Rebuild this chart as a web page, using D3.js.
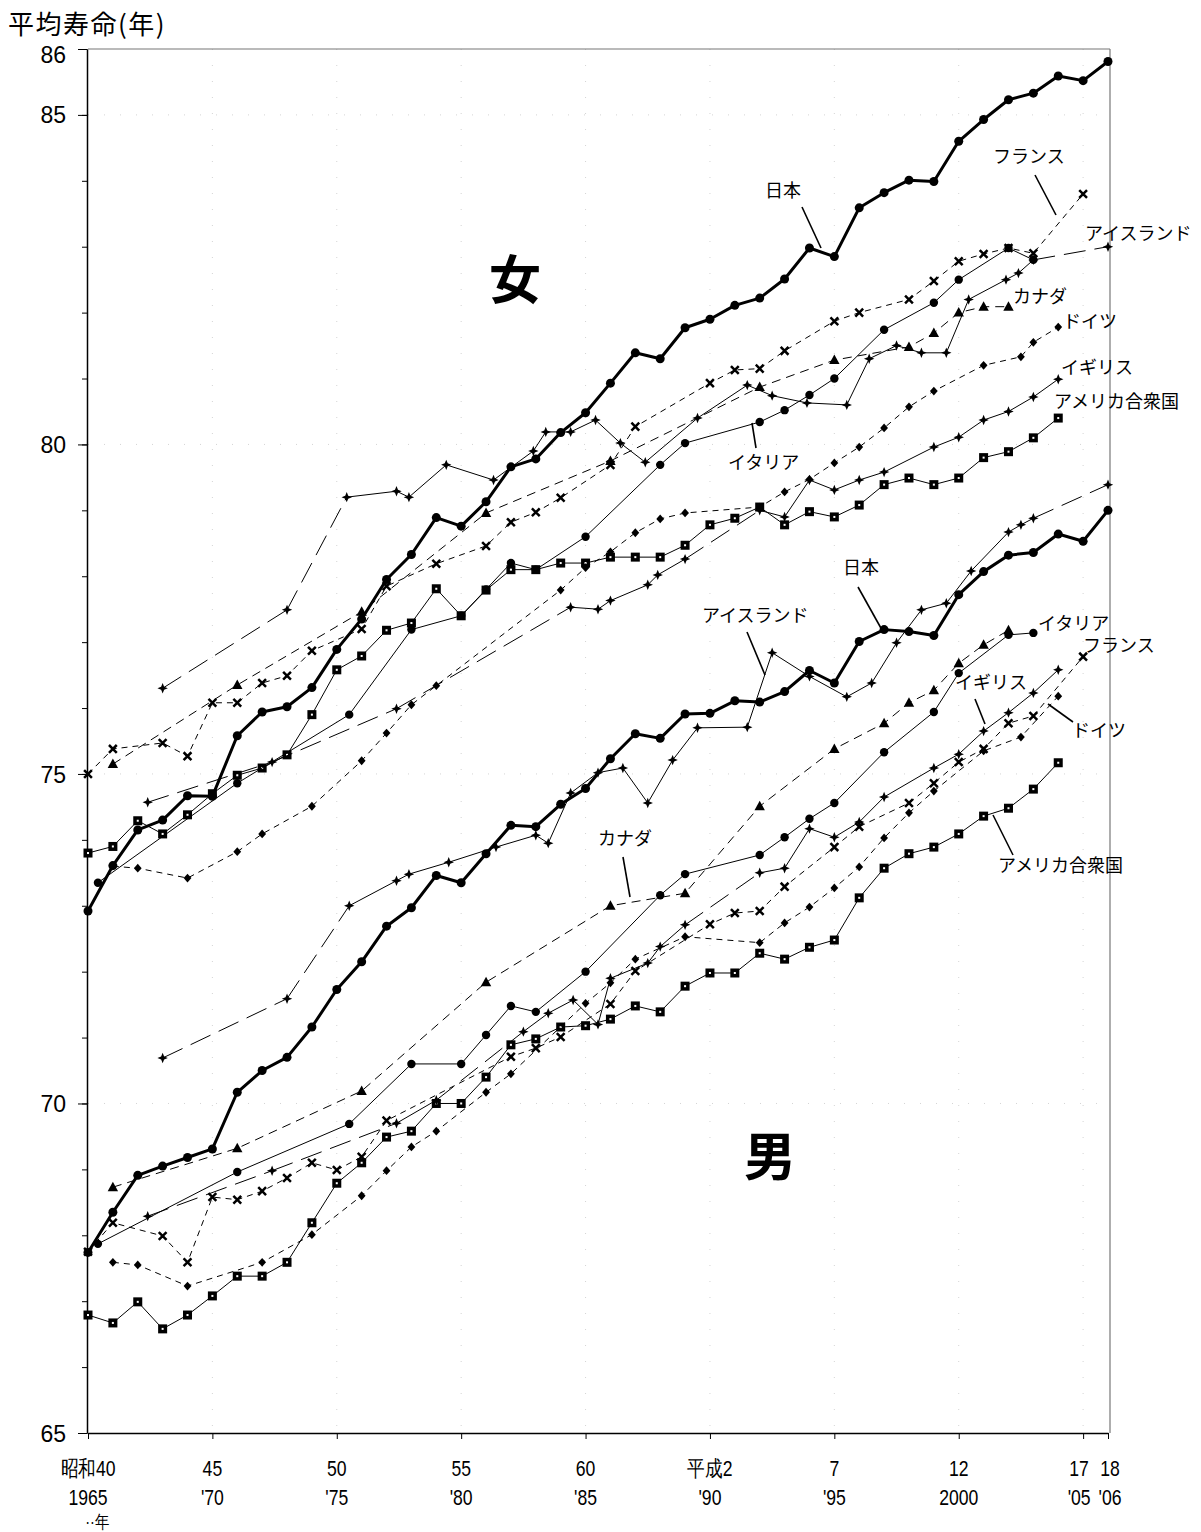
<!DOCTYPE html>
<html>
<head>
<meta charset="utf-8">
<script src="https://cdn.jsdelivr.net/npm/d3@7"></script>
<style>
  body { margin: 0; background: #fff; }
  text { fill: #000; }
  .num { font-family: "Liberation Sans", Arial, sans-serif; }
  .jp  { font-family: "Noto Sans CJK JP", "Noto Sans", sans-serif; }
</style>
</head>
<body>
<div class="draw"></div>
<script>
// ---- data (year, life expectancy) ----
const jpYears = d3.range(1965, 2007);
const jpF = [72.92,73.61,74.15,74.30,74.67,74.66,75.58,75.94,76.02,76.31,76.89,77.35,77.95,78.33,78.89,78.76,79.13,79.66,79.78,80.18,80.48,80.93,81.39,81.30,81.77,81.90,82.11,82.22,82.51,82.98,82.85,83.59,83.82,84.01,83.99,84.60,84.93,85.23,85.33,85.59,85.52,85.81];
const jpM = [67.74,68.35,68.91,69.05,69.18,69.31,70.17,70.50,70.70,71.16,71.73,72.15,72.69,72.97,73.46,73.35,73.79,74.22,74.20,74.54,74.78,75.23,75.61,75.54,75.91,75.92,76.11,76.09,76.25,76.57,76.38,77.01,77.19,77.16,77.10,77.72,78.07,78.32,78.36,78.64,78.53,79.00];

const franceF = [[1965,75.0],[1966,75.38],[1968,75.47],[1969,75.27],[1970,76.08],[1971,76.08],[1972,76.38],[1973,76.49],[1974,76.87],[1976,77.2],[1977,77.85],[1979,78.19],[1981,78.46],[1982,78.82],[1983,78.97],[1984,79.19],[1986,79.69],[1987,80.27],[1990,80.93],[1991,81.13],[1992,81.15],[1993,81.42],[1995,81.87],[1996,82.0],[1998,82.2],[1999,82.48],[2000,82.78],[2001,82.89],[2002,82.98],[2003,82.9],[2005,83.8]];
const icelandF = [[1968,76.3],[1973,77.49],[1975.4,79.2],[1977.4,79.29],[1977.9,79.2],[1979.4,79.69],[1981.3,79.46],[1982.9,79.9],[1983.4,80.19],[1984.4,80.19],[1985.4,80.37],[1986.4,80.02],[1987.4,79.73],[1989.5,80.4],[1991.5,80.9],[1992.5,80.74],[1993.9,80.63],[1995.5,80.6],[1996.4,81.3],[1997.5,81.5],[1998.5,81.39],[1999.5,81.39],[2000.4,82.2],[2001.9,82.5],[2002.4,82.6],[2003,82.8],[2006,83.0]];
const canadaF = [[1966,75.15],[1971,76.35],[1976,77.46],[1981,78.96],[1986,79.75],[1992,80.87],[1995,81.28],[1998,81.48],[1999,81.69],[2000,82.0],[2001,82.09],[2002,82.09]];
const germanyF = [[1966,73.6],[1967,73.57],[1969,73.42],[1971,73.82],[1972,74.09],[1974,74.51],[1976,75.2],[1977,75.62],[1978,76.05],[1979,76.34],[1984,77.79],[1985,78.13],[1986,78.37],[1987,78.66],[1988,78.87],[1989,78.96],[1992,79.05],[1993,79.28],[1994,79.47],[1995,79.72],[1996,79.96],[1997,80.25],[1998,80.57],[1999,80.81],[2001,81.2],[2002.5,81.33],[2003,81.55],[2004,81.78]];
const ukF = [[1967.4,74.57],[1972.4,75.18],[1977.4,75.99],[1984.4,77.53],[1985.5,77.5],[1986,77.63],[1987.5,77.87],[1987.9,78.02],[1989,78.26],[1992,79.0],[1993,78.9],[1994,79.46],[1995,79.31],[1996,79.46],[1997,79.58],[1999,79.96],[2000,80.11],[2001,80.37],[2002,80.5],[2003,80.72],[2004,80.99]];
const usaF = [[1965,73.8],[1966,73.9],[1967,74.29],[1968,74.09],[1969,74.38],[1970,74.7],[1971,74.98],[1972,75.09],[1973,75.29],[1974,75.9],[1975,76.58],[1976,76.79],[1977,77.18],[1978,77.29],[1979,77.81],[1980,77.4],[1981,77.79],[1982,78.1],[1983,78.1],[1984,78.2],[1985,78.2],[1986,78.29],[1987,78.29],[1988,78.29],[1989,78.47],[1990,78.78],[1991,78.88],[1992,79.05],[1993,78.78],[1994,78.98],[1995,78.9],[1996,79.08],[1997,79.39],[1998,79.49],[1999,79.39],[2000,79.49],[2001,79.8],[2002,79.89],[2003,80.1],[2004,80.4]];
const italyF = [[1965.4,73.35],[1971,74.86],[1975.5,75.9],[1978,77.19],[1980,77.4],[1981,77.8],[1982,78.2],[1983,78.1],[1985,78.6],[1988,79.69],[1989,80.02],[1992,80.34],[1993,80.52],[1994,80.75],[1995,81.0],[1997,81.74],[1999,82.15],[2000,82.5],[2002,82.98],[2003,82.8]];

const franceM = [[1965,67.75],[1966,68.19],[1968,67.99],[1969,67.59],[1970,68.58],[1971,68.54],[1972,68.67],[1973,68.87],[1974,69.1],[1975,68.99],[1976,69.19],[1977,69.74],[1982,70.71],[1983,70.84],[1984,71.01],[1986,71.51],[1987,72.01],[1990,72.72],[1991,72.89],[1992,72.92],[1993,73.29],[1995,73.89],[1996,74.2],[1998,74.56],[1999,74.86],[2000,75.18],[2001,75.38],[2002,75.77],[2003,75.88],[2005,76.78]];
const icelandM = [[1968,70.69],[1973,71.59],[1975.5,73.0],[1977.4,73.38],[1977.9,73.48],[1979.5,73.66],[1981.4,73.89],[1983,74.07],[1983.5,73.95],[1984.4,74.71],[1985.5,75.02],[1986.5,75.09],[1987.5,74.56],[1988.5,75.21],[1989.5,75.7],[1991.5,75.71],[1992.5,76.84],[1994,76.48],[1995.5,76.17],[1996.5,76.38],[1997.5,76.99],[1998.5,77.49],[1999.5,77.59],[2000.5,78.08],[2002,78.67],[2002.5,78.78],[2003,78.88],[2006,79.39]];
const canadaM = [[1966,68.73],[1971,69.32],[1976,70.19],[1981,71.84],[1986,73.0],[1989,73.19],[1992,74.51],[1995,75.38],[1997,75.77],[1998,76.08],[1999,76.27],[2000,76.68],[2001,76.96],[2002,77.18]];
const germanyM = [[1966,67.59],[1967,67.55],[1969,67.23],[1972,67.59],[1974,68.01],[1976,68.6],[1977,68.98],[1978,69.34],[1979,69.58],[1981,70.17],[1982,70.45],[1985,71.52],[1986,71.83],[1987,72.19],[1989,72.53],[1992,72.44],[1993,72.74],[1994,72.98],[1995,73.27],[1996,73.59],[1997,74.03],[1998,74.41],[1999,74.74],[2001,75.35],[2002.5,75.56],[2004,76.18]];
const ukM = [[1967.4,68.29],[1972.4,68.98],[1977.4,69.7],[1979,70.05],[1982.5,71.09],[1983.5,71.37],[1984.5,71.57],[1985.5,71.2],[1986,71.9],[1987.5,72.13],[1988,72.38],[1989,72.71],[1992,73.5],[1993,73.57],[1994,74.17],[1995,74.04],[1996,74.27],[1997,74.65],[1999,75.09],[2000,75.3],[2001,75.65],[2002,75.93],[2003,76.23],[2004,76.58]];
const usaM = [[1965,66.79],[1966,66.67],[1967,66.99],[1968,66.58],[1969,66.79],[1970,67.08],[1971,67.38],[1972,67.38],[1973,67.59],[1974,68.19],[1975,68.79],[1976,69.1],[1977,69.49],[1978,69.58],[1979,70.0],[1980,70.0],[1981,70.4],[1982,70.89],[1983,70.98],[1984,71.16],[1985,71.18],[1986,71.28],[1987,71.48],[1988,71.39],[1989,71.78],[1990,71.98],[1991,71.98],[1992,72.28],[1993,72.19],[1994,72.37],[1995,72.48],[1996,73.12],[1997,73.57],[1998,73.79],[1999,73.89],[2000,74.09],[2001,74.36],[2002,74.48],[2003,74.77],[2004,75.17]];
const italyM = [[1965.4,67.87],[1971,68.96],[1975.5,69.69],[1978,70.6],[1980,70.6],[1981,71.04],[1982,71.48],[1983,71.39],[1985,72.0],[1988,73.16],[1989,73.48],[1992,73.77],[1993,74.04],[1994,74.32],[1995,74.56],[1997,75.33],[1999,75.94],[2000,76.53],[2002,77.11],[2003,77.14]];

// axis labels
const tickYears = [1965,1970,1975,1980,1985,1990,1995,2000,2005,2006];
const showaLabels = ["昭和40","45","50","55","60","平成2","7","12","17","18"];
const westLabels = ["1965","'70","'75","'80","'85","'90","'95","2000","'05","'06"];
const yMajor = [65,70,75,80,85,86];

const svg = d3.select(".draw").append("svg")
    .attr("width", 1201)
    .attr("height", 1532);

const x = d3.scaleLinear().domain([1965, 2006]).range([88, 1108]);
const y = d3.scaleLinear().domain([65, 86]).range([1433, 49]);

// faint grid remnants (barely visible in the scan)
const grid = svg.append("g").attr("stroke", "#d4d4d4").attr("stroke-width", 1).attr("stroke-dasharray", "1,15");
[1970,1975,1980,1985,1990,1995,2000,2005].forEach(t => {
  grid.append("line").attr("x1", x(t)).attr("x2", x(t)).attr("y1", y(86)).attr("y2", y(65));
});
[70,75,80,85].forEach(v => {
  grid.append("line").attr("x1", x(1965)).attr("x2", x(2006)).attr("y1", y(v)).attr("y2", y(v));
});

// frame top and right
svg.append("line").attr("x1", x(1965)).attr("x2", 1110).attr("y1", y(86)).attr("y2", y(86))
  .attr("stroke", "#777").attr("stroke-width", 1.2);
svg.append("line").attr("x1", 1110).attr("x2", 1110).attr("y1", y(86)).attr("y2", y(65))
  .attr("stroke", "#777").attr("stroke-width", 1.2);

// axes
svg.append("g").attr("transform", "translate(87,0)")
  .call(d3.axisLeft(y).tickValues(d3.range(65, 87)).tickSize(5).tickSizeOuter(0).tickFormat(""));
const yAxis = svg.append("g").attr("transform", "translate(87,0)")
  .call(d3.axisLeft(y).tickValues(yMajor).tickSize(9).tickSizeOuter(0).tickFormat(d => d));
yAxis.selectAll("text").attr("class", "num").attr("font-size", 23).attr("x", -21)
  .attr("dy", d => d === 86 ? "0.6em" : "0.35em");
yAxis.select(".domain").attr("stroke-width", 1.5);

const xAxis = svg.append("g").attr("transform", `translate(0,${y(65)})`)
  .call(d3.axisBottom(x).tickValues(tickYears).tickSize(6).tickSizeOuter(0).tickFormat(""));
xAxis.select(".domain").attr("stroke-width", 1.5);

// condensed tick labels, two rows
function narrowText(t, px, py, size) {
  svg.append("text").attr("class", "num").attr("font-size", size)
    .attr("text-anchor", "middle")
    .attr("transform", `translate(${px},${py}) scale(0.8,1)`).text(t);
}
tickYears.forEach((t, i) => {
  const off = t === 2005 ? -4 : (t === 2006 ? 2 : 0);
  narrowText(showaLabels[i], x(t) + off, 1476, 22);
  narrowText(westLabels[i], x(t) + off, 1505, 22);
});
narrowText("··年", 97, 1528, 18);

svg.append("text").attr("class", "jp").attr("font-size", 26).attr("letter-spacing", 1.5)
  .attr("x", 8).attr("y", 34).text("平均寿命(年)");

// ---- markers ----
function marker(g, type, px, py) {
  if (type === "circle") {
    g.append("circle").attr("cx", px).attr("cy", py).attr("r", 4.5).attr("fill", "#000");
  } else if (type === "dot") {
    g.append("circle").attr("cx", px).attr("cy", py).attr("r", 4.2).attr("fill", "#000");
  } else if (type === "x") {
    const s = 3.9;
    g.append("path").attr("d", `M${px-s},${py-s}L${px+s},${py+s}M${px+s},${py-s}L${px-s},${py+s}`)
      .attr("stroke", "#000").attr("stroke-width", 2.5);
  } else if (type === "star") {
    const r = 5.2, w = 1.5;
    g.append("path").attr("d", `M${px},${py-r}L${px+w},${py-w}L${px+r},${py}L${px+w},${py+w}L${px},${py+r}L${px-w},${py+w}L${px-r},${py}L${px-w},${py-w}Z`)
      .attr("fill", "#000");
  } else if (type === "tri") {
    g.append("path").attr("d", `M${px},${py-5.5}L${px+5.2},${py+4}L${px-5.2},${py+4}Z`).attr("fill", "#000");
  } else if (type === "diamond") {
    g.append("path").attr("d", `M${px},${py-4.4}L${px+3.9},${py}L${px},${py+4.4}L${px-3.9},${py}Z`).attr("fill", "#000");
  } else if (type === "square") {
    g.append("rect").attr("x", px-4.5).attr("y", py-4.5).attr("width", 9).attr("height", 9).attr("fill", "#000");
    g.append("rect").attr("x", px-1).attr("y", py-1).attr("width", 2).attr("height", 2).attr("fill", "#fff");
  }
}

const line = d3.line().x(d => x(d[0])).y(d => y(d[1]));

function drawSeries(data, opt) {
  const g = svg.append("g");
  // split into runs; long gaps in the data get a long dash
  let run = [data[0]];
  const runs = [], gaps = [];
  for (let i = 1; i < data.length; i++) {
    if (opt.gap && data[i][0] - data[i-1][0] > opt.gap) {
      runs.push(run);
      gaps.push([data[i-1], data[i]]);
      run = [data[i]];
    } else run.push(data[i]);
  }
  runs.push(run);
  runs.filter(r => r.length > 1).forEach(r => {
    g.append("path").datum(r).attr("d", line).attr("fill", "none")
      .attr("stroke", "#000").attr("stroke-width", opt.width || 1)
      .attr("stroke-dasharray", opt.dash || null).attr("stroke-linejoin", "round");
  });
  gaps.forEach(r => {
    g.append("path").datum(r).attr("d", line).attr("fill", "none")
      .attr("stroke", "#000").attr("stroke-width", opt.width || 1)
      .attr("stroke-dasharray", "22,9");
  });
  data.forEach(d => marker(g, opt.marker, x(d[0]), y(d[1])));
}

const jpFpts = jpYears.map((t, i) => [t, jpF[i]]);
const jpMpts = jpYears.map((t, i) => [t, jpM[i]]);

const series = [
  [usaF, {marker: "square", gap: 2.5}],
  [ukF, {marker: "star", gap: 2.5}],
  [italyF, {marker: "dot", gap: 6}],
  [germanyF, {marker: "diamond", dash: "6,5"}],
  [canadaF, {marker: "tri", dash: "9,6"}],
  [icelandF, {marker: "star", gap: 2.1}],
  [franceF, {marker: "x", dash: "6,5"}],
  [jpFpts, {marker: "circle", width: 3}],
  [usaM, {marker: "square", gap: 2.5}],
  [ukM, {marker: "star", gap: 2.5}],
  [italyM, {marker: "dot", gap: 6}],
  [germanyM, {marker: "diamond", dash: "6,5"}],
  [canadaM, {marker: "tri", dash: "9,6"}],
  [icelandM, {marker: "star", gap: 2.1}],
  [franceM, {marker: "x", dash: "6,5"}],
  [jpMpts, {marker: "circle", width: 3}]
];
series.forEach(s => drawSeries(s[0], s[1]));

// ---- labels ----
const lab = svg.append("g").attr("class", "jp").attr("font-size", 18);
function label(t, px, py, anchor) {
  lab.append("text").attr("x", px).attr("y", py).attr("text-anchor", anchor || "start")
    .attr("dominant-baseline", "middle").text(t);
}
function leader(x1, y1, x2, y2) {
  svg.append("line").attr("x1", x1).attr("y1", y1).attr("x2", x2).attr("y2", y2)
    .attr("stroke", "#000").attr("stroke-width", 1.6);
}
// female
label("日本", 765, 192); leader(802, 207, 821, 248);
label("フランス", 993, 158); leader(1035, 175, 1056, 215);
label("アイスランド", 1085, 235);
label("カナダ", 1013, 298);
label("ドイツ", 1063, 323);
label("イギリス", 1061, 369);
label("アメリカ合衆国", 1054, 403);
label("イタリア", 728, 464); leader(752, 423, 756, 448);
// male
label("日本", 843, 569); leader(858, 587, 882, 630);
label("アイスランド", 702, 617); leader(747, 632, 765, 675);
label("イタリア", 1038, 625);
label("フランス", 1083, 647);
label("イギリス", 955, 684); leader(975, 699, 985, 724);
label("ドイツ", 1072, 732); leader(1073, 722, 1048, 704);
label("カナダ", 598, 840); leader(623, 857, 630, 897);
label("アメリカ合衆国", 998, 867); leader(1013, 855, 993, 815);

svg.append("text").attr("class", "jp").attr("font-size", 52).attr("font-weight", "bold")
  .attr("x", 515).attr("y", 285).attr("text-anchor", "middle").attr("dominant-baseline", "middle").text("女");
svg.append("text").attr("class", "jp").attr("font-size", 52).attr("font-weight", "bold")
  .attr("x", 770).attr("y", 1162).attr("text-anchor", "middle").attr("dominant-baseline", "middle").text("男");
</script>
</body>
</html>
